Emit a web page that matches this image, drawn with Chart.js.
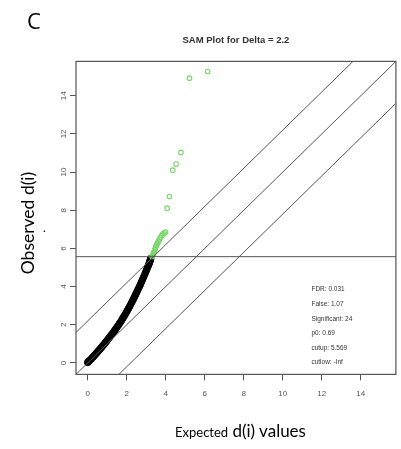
<!DOCTYPE html>
<html>
<head>
<meta charset="utf-8">
<script src="https://cdn.jsdelivr.net/npm/chart.js@4"></script>
<style>
  html, body { margin: 0; padding: 0; background: #fff; }
  #wrap { position: relative; width: 401px; height: 449px; overflow: hidden; }
  #wrap canvas { position: absolute; left: 0; top: 0; }
  .lbl { position: absolute; font-family: Lato, "Open Sans", sans-serif; color: #000; white-space: nowrap; }
</style>
</head>
<body>
<div id="wrap">
  <canvas id="samPlot" width="401" height="449"></canvas>
  <div class="lbl" style="left:27px; top:9px; font-size:22px; line-height:22px; font-family:'Open Sans', sans-serif;">C</div>
  <div class="lbl" style="left:28px; top:223px; font-size:17.5px; line-height:18px; transform:translate(-50%,-50%) rotate(-90deg);">Observed d(i)</div>
  <div class="lbl" style="left:43px; top:222px; font-size:12px; line-height:12px;">.</div>
  <div class="lbl" style="left:175px; top:422px; font-size:17px; line-height:17px;"><span style="font-size:13px;">Expected</span> d(i) values</div>
</div>
<script>
// 데이터: 검정 점 (유의하지 않은 유전자) - expected / observed
const expectedBlack = [0.00, 0.06, 0.12, 0.18, 0.24, 0.30, 0.36, 0.42, 0.48, 0.54,
  0.60, 0.66, 0.72, 0.78, 0.84, 0.90, 0.96, 1.02, 1.08, 1.14,
  1.20, 1.26, 1.32, 1.38, 1.44, 1.50, 1.56, 1.62, 1.68, 1.74,
  1.80, 1.86, 1.92, 1.98, 2.04, 2.10, 2.16, 2.22, 2.28, 2.34,
  2.40, 2.46, 2.52, 2.58, 2.64, 2.70, 2.76, 2.82, 2.88, 2.94,
  3.00, 3.05, 3.10, 3.14, 3.17, 3.19, 3.21, 3.23];
const observedBlack = [0.03, 0.09, 0.15, 0.21, 0.28, 0.34, 0.41, 0.48, 0.55, 0.62,
  0.69, 0.76, 0.83, 0.91, 0.98, 1.06, 1.13, 1.21, 1.29, 1.37,
  1.45, 1.53, 1.61, 1.70, 1.78, 1.87, 1.96, 2.05, 2.14, 2.24,
  2.34, 2.44, 2.54, 2.65, 2.76, 2.87, 2.98, 3.10, 3.22, 3.34,
  3.46, 3.59, 3.72, 3.85, 3.98, 4.11, 4.25, 4.39, 4.53, 4.68,
  4.83, 4.96, 5.08, 5.18, 5.26, 5.33, 5.40, 5.47];

// 유의한 유전자 (초록 점, 24개)
const expectedSig = [3.30, 3.33, 3.36, 3.39, 3.42, 3.45, 3.48, 3.51, 3.55, 3.59,
  3.63, 3.68, 3.74, 3.80, 3.86, 3.92, 3.99, 4.07, 4.19, 4.36, 4.53, 4.78, 5.22, 6.15];
const observedSig = [5.58, 5.63, 5.70, 5.78, 5.86, 5.95, 6.04, 6.13, 6.22, 6.30,
  6.38, 6.47, 6.58, 6.68, 6.76, 6.82, 6.86, 8.11, 8.72, 10.10, 10.42, 11.03, 14.92, 15.27];

// SAM 파라미터
const delta = 2.2;
const cutup = 5.569;
const axisMin = -0.6;
const axisMax = 15.8;
const tickStep = 2;

// 오른쪽 아래 통계 텍스트
const statLabels = ["FDR: 0.031", "False: 1.07", "Significant: 24", "p0: 0.69", "cutup: 5.569", "cutlow: -Inf"];

const toPoints = (xs, ys) => xs.map((v, i) => ({ x: v, y: ys[i] }));

const lineStyle = {
  showLine: true,
  borderColor: "#555",
  borderWidth: 1,
  pointRadius: 0,
  pointHoverRadius: 0,
  fill: false,
};

// 상자 + y축 눈금 라벨(세로) + 통계 텍스트
const samDecor = {
  id: "samDecor",
  afterDraw(chart) {
    const { ctx, chartArea: a, scales: { x, y } } = chart;
    ctx.save();
    ctx.strokeStyle = "#555";
    ctx.lineWidth = 1.2;
    ctx.strokeRect(a.left, a.top, a.right - a.left, a.bottom - a.top);

    ctx.fillStyle = "#555";
    ctx.font = '8px "Liberation Sans", Arial, sans-serif';
    ctx.textAlign = "center";
    ctx.textBaseline = "middle";
    y.ticks.forEach((t) => {
      ctx.save();
      ctx.translate(a.left - 12, y.getPixelForValue(t.value));
      ctx.rotate(-Math.PI / 2);
      ctx.fillText(String(t.value), 0, 0);
      ctx.restore();
    });

    ctx.fillStyle = "#333";
    ctx.font = '6.5px "Liberation Sans", Arial, sans-serif';
    ctx.textAlign = "left";
    statLabels.forEach((s, i) => {
      ctx.fillText(s, x.getPixelForValue(11.47), y.getPixelForValue(3.84 - i * 0.764));
    });
    ctx.restore();
  },
};

const config = {
  type: "scatter",
  data: {
    datasets: [
      { ...lineStyle, data: [{ x: axisMin, y: axisMin }, { x: axisMax, y: axisMax }] },
      { ...lineStyle, data: [{ x: axisMin, y: axisMin + delta }, { x: axisMax - delta, y: axisMax }] },
      { ...lineStyle, data: [{ x: axisMin + delta, y: axisMin }, { x: axisMax, y: axisMax - delta }] },
      { ...lineStyle, data: [{ x: axisMin, y: cutup }, { x: axisMax, y: cutup }] },
      {
        data: toPoints(expectedSig, observedSig),
        pointRadius: 2.3,
        borderColor: "#78d86a",
        backgroundColor: "rgba(0,0,0,0)",
        borderWidth: 1.1,
      },
      {
        data: toPoints(expectedBlack, observedBlack),
        pointRadius: 3.3,
        borderColor: "#000",
        backgroundColor: "#000",
        borderWidth: 1,
      },
    ],
  },
  options: {
    responsive: false,
    animation: false,
    layout: { padding: { left: 70, right: 2, top: 0, bottom: 42 } },
    scales: {
      x: {
        type: "linear",
        min: axisMin,
        max: axisMax,
        border: { display: false },
        grid: { drawOnChartArea: false, drawTicks: true, tickLength: 6, color: "#555" },
        ticks: {
          stepSize: tickStep,
          includeBounds: false,
          padding: 8.5,
          color: "#555",
          font: { size: 8, family: '"Liberation Sans", Arial, sans-serif' },
        },
      },
      y: {
        type: "linear",
        min: axisMin,
        max: axisMax,
        border: { display: false },
        grid: { drawOnChartArea: false, drawTicks: true, tickLength: 6, color: "#555" },
        ticks: { stepSize: tickStep, includeBounds: false, display: false },
      },
    },
    plugins: {
      legend: { display: false },
      tooltip: { enabled: false },
      title: {
        display: true,
        fullSize: false,
        text: "SAM Plot for Delta = " + delta,
        color: "#333",
        font: { size: 9.5, weight: "bold", family: '"Liberation Sans", Arial, sans-serif' },
        padding: { top: 35, bottom: 15 },
      },
    },
  },
  plugins: [samDecor],
};

const ctx = document.getElementById("samPlot").getContext("2d");
const samChart = new Chart(ctx, config);
</script>
</body>
</html>
